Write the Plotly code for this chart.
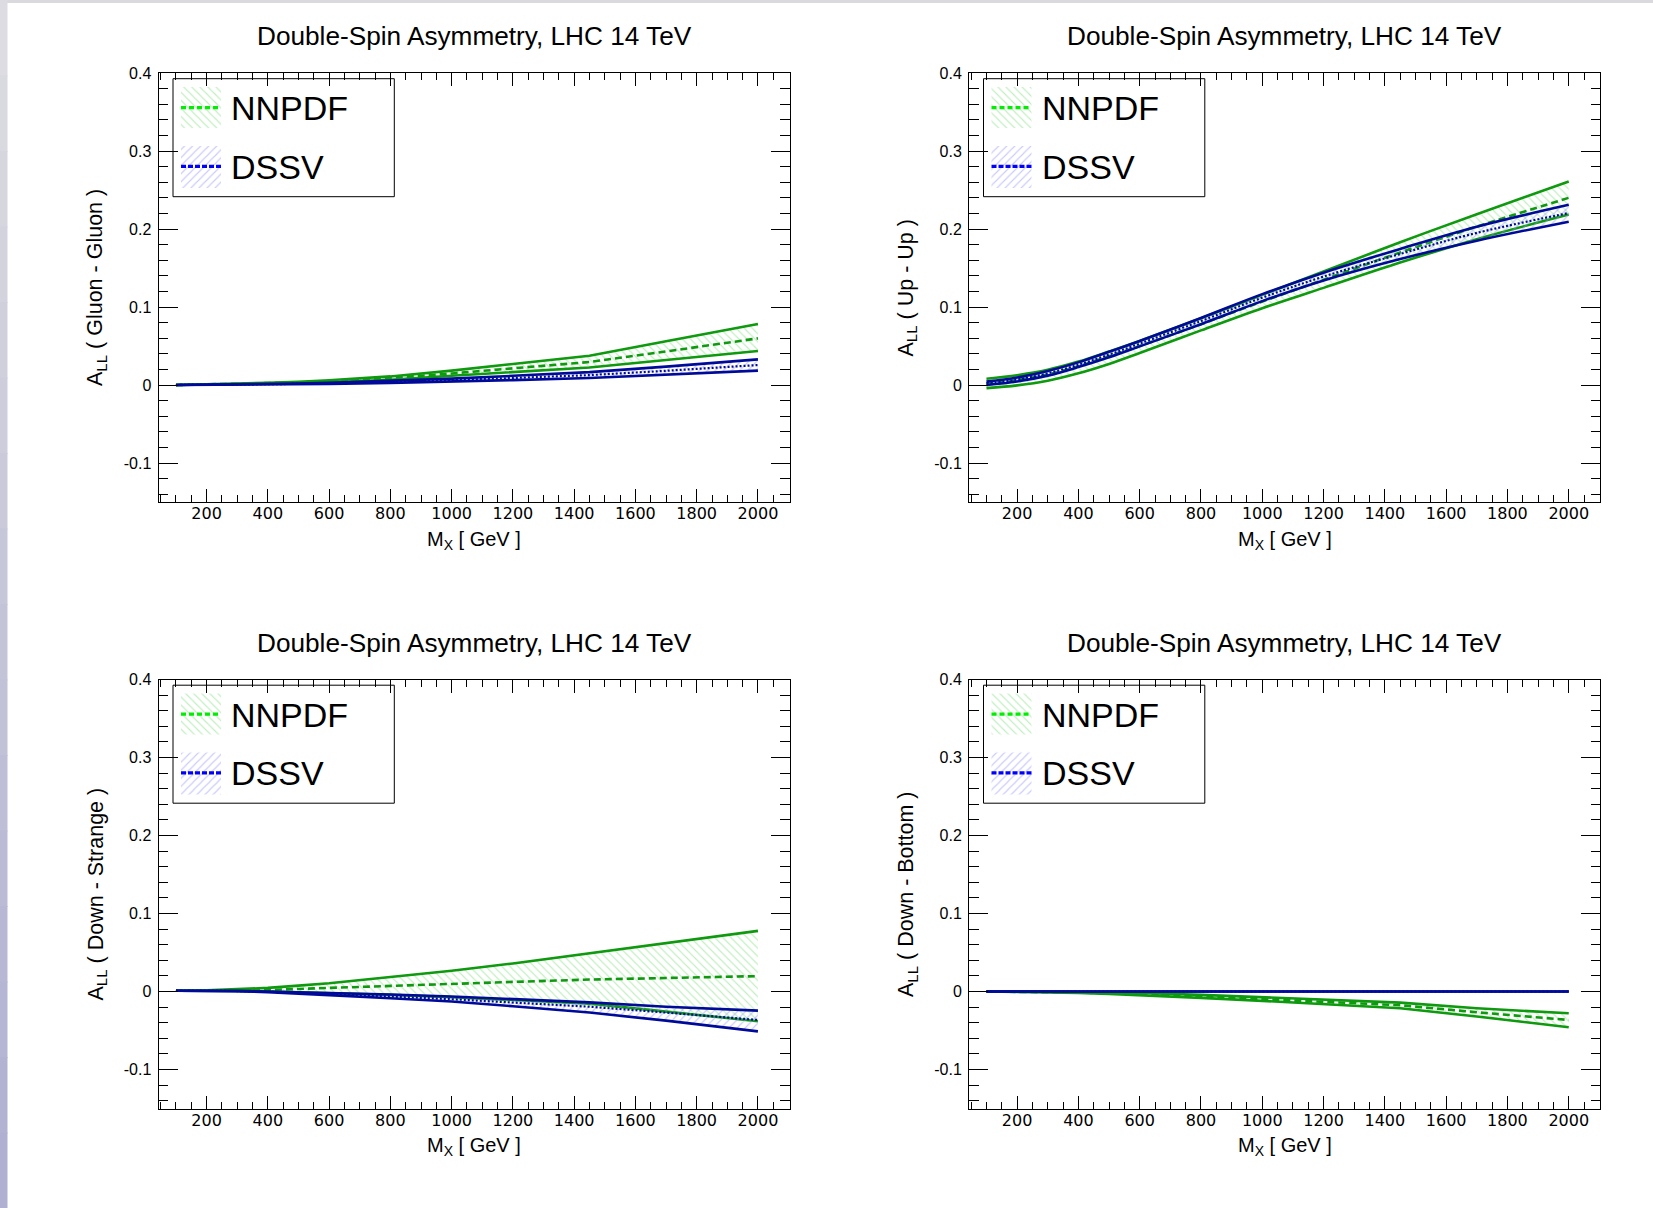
import plotly.graph_objects as go

# ---------------- data ----------------
MASS = [100, 200, 300, 400, 500, 600, 800, 1000, 1200, 1450, 1700, 2000]

# Gluon - Gluon
GG_NNPDF_HI = [0.0, 0.0008, 0.0017, 0.0028, 0.0042, 0.0060, 0.0110, 0.0184, 0.0270, 0.0375, 0.0560, 0.0782]
GG_NNPDF_MID = [0.0, 0.0006, 0.0013, 0.0022, 0.0033, 0.0047, 0.0088, 0.0148, 0.0210, 0.0295, 0.0430, 0.0598]
GG_NNPDF_LO = [0.0, 0.0004, 0.0009, 0.0016, 0.0025, 0.0035, 0.0068, 0.0118, 0.0163, 0.0225, 0.0320, 0.0436]
GG_DSSV_HI = [0.0, 0.0003, 0.0007, 0.0012, 0.0019, 0.0027, 0.0050, 0.0082, 0.0118, 0.0165, 0.0235, 0.0329]
GG_DSSV_MID = [0.0, 0.0002, 0.0005, 0.0009, 0.0014, 0.0020, 0.0038, 0.0062, 0.0090, 0.0127, 0.0182, 0.0256]
GG_DSSV_LO = [0.0, 0.0002, 0.0004, 0.0006, 0.0010, 0.0014, 0.0027, 0.0043, 0.0063, 0.0090, 0.0130, 0.0184]

# Up - Up
UU_NNPDF_HI = [0.008, 0.0125, 0.0195, 0.030, 0.043, 0.0565, 0.0855, 0.1155, 0.1455, 0.183, 0.219, 0.261]
UU_NNPDF_MID = [0.002, 0.0065, 0.0135, 0.024, 0.037, 0.050, 0.078, 0.107, 0.135, 0.170, 0.203, 0.240]
UU_NNPDF_LO = [-0.004, -0.0005, 0.0055, 0.015, 0.027, 0.041, 0.0700, 0.0985, 0.1245, 0.157, 0.187, 0.2185]
UU_DSSV_HI = [0.0043, 0.0095, 0.018, 0.029, 0.0425, 0.0565, 0.086, 0.1165, 0.144, 0.1745, 0.203, 0.231]
UU_DSSV_MID = [0.002, 0.007, 0.015, 0.026, 0.039, 0.053, 0.082, 0.112, 0.139, 0.168, 0.195, 0.2205]
UU_DSSV_LO = [0.0, 0.0045, 0.012, 0.023, 0.0355, 0.0495, 0.078, 0.1075, 0.134, 0.1615, 0.185, 0.2094]

# Down - Strange
DS_NNPDF_HI = [0.001, 0.0015, 0.003, 0.0047, 0.0075, 0.0105, 0.0185, 0.0265, 0.036, 0.049, 0.062, 0.0777]
DS_NNPDF_MID = [0.001, 0.0012, 0.0015, 0.0019, 0.0033, 0.0047, 0.0072, 0.0094, 0.0123, 0.0153, 0.0175, 0.0197]
DS_NNPDF_LO = [0.001, 0.001, 0.0008, 0.0, -0.001, -0.002, -0.0043, -0.0073, -0.0107, -0.0155, -0.0258, -0.0382]
DS_DSSV_HI = [0.001, 0.001, 0.0008, 0.0, -0.0008, -0.0017, -0.0038, -0.0064, -0.0098, -0.0139, -0.0195, -0.0245]
DS_DSSV_MID = [0.001, 0.001, 0.0006, -0.0003, -0.0017, -0.0034, -0.0065, -0.0099, -0.0145, -0.0195, -0.027, -0.0365]
DS_DSSV_LO = [0.001, 0.001, 0.0004, -0.0009, -0.0025, -0.0047, -0.0086, -0.0129, -0.0189, -0.027, -0.0373, -0.0511]

# Down - Bottom
DB_NNPDF_HI = [0.0, 0.0, -0.0004, -0.001, -0.0015, -0.002, -0.0043, -0.0073, -0.0107, -0.0142, -0.0215, -0.0279]
DB_NNPDF_MID = [0.0, -0.0003, -0.0008, -0.0014, -0.0024, -0.0034, -0.0064, -0.0099, -0.0133, -0.0176, -0.0266, -0.0365]
DB_NNPDF_LO = [0.0, -0.0005, -0.0012, -0.0019, -0.0032, -0.0047, -0.0082, -0.012, -0.0159, -0.0215, -0.032, -0.0459]
DB_DSSV_HI = [0.0, 0.0, 0.0, 0.0, 0.0, 0.0, 0.0, 0.0, 0.0, 0.0, 0.0, 0.0]
DB_DSSV_MID = [0.0, 0.0, 0.0, 0.0, 0.0, 0.0, 0.0, 0.0, 0.0, 0.0, 0.0, 0.0]
DB_DSSV_LO = [0.0, 0.0, 0.0, 0.0, 0.0, 0.0, 0.0, 0.0, 0.0, 0.0, 0.0, 0.0]

PANEL_LABELS = ["Gluon - Gluon", "Up - Up", "Down - Strange", "Down - Bottom"]
SERIES_NAMES = ["NNPDF", "DSSV"]
TITLE = "Double-Spin Asymmetry, LHC 14 TeV"
X_TITLE = "M<sub>X</sub> [ GeV ]"
Y_TICK_VALS = [-0.1, 0, 0.1, 0.2, 0.3, 0.4]
Y_TICK_TEXT = ["-0.1", "0", "0.1", "0.2", "0.3", "0.4"]

PANEL_DATA = [
    (GG_NNPDF_LO, GG_NNPDF_HI, GG_NNPDF_MID, GG_DSSV_LO, GG_DSSV_HI, GG_DSSV_MID),
    (UU_NNPDF_LO, UU_NNPDF_HI, UU_NNPDF_MID, UU_DSSV_LO, UU_DSSV_HI, UU_DSSV_MID),
    (DS_NNPDF_LO, DS_NNPDF_HI, DS_NNPDF_MID, DS_DSSV_LO, DS_DSSV_HI, DS_DSSV_MID),
    (DB_NNPDF_LO, DB_NNPDF_HI, DB_NNPDF_MID, DB_DSSV_LO, DB_DSSV_HI, DB_DSSV_MID),
]
# the Up-Up curves are smooth in the reference; the others show straight segments
PANEL_LINE_SHAPE = ["linear", "spline", "linear", "linear"]

# ---------------- layout / style ----------------
W, H = 1653, 1208
# panel frames in pixels: (left, right, top, bottom)
PANELS_PX = [
    (158.5, 789.5, 73.0, 502.0),
    (969.0, 1600.3, 73.0, 502.0),
    (158.5, 789.5, 679.5, 1108.5),
    (969.0, 1600.3, 679.5, 1108.5),
]
X_RANGE = [43, 2103]
Y_RANGE = [-0.15, 0.4]

FONT = "Liberation Sans, Arial, Helvetica, sans-serif"
TICKFONT_X = "DejaVu Sans, sans-serif"
GREEN_LINE = "#0e990e"
BLUE_LINE = "#000a99"
GREEN_HATCH = "#7fdf7f"
BLUE_HATCH = "#9494ff"
GREEN_LEG = "#00ee00"
BLUE_LEG = "#0000ff"
LW = 2.6


def ax_ids(i):
    return ("x", "y") if i == 0 else (f"x{i+1}", f"y{i+1}")


def hatch(shape, color):
    return dict(shape=shape, fgcolor=color, bgcolor="rgba(0,0,0,0)", size=5.7, solidity=0.2)


fig = go.Figure()
layout = dict(
    width=W, height=H, margin=dict(l=0, r=0, t=0, b=0, autoexpand=False),
    paper_bgcolor="white", plot_bgcolor="rgba(0,0,0,0)",
    showlegend=False, hovermode=False,
)
annotations = []
shapes = []

for i, (l, r, t, b) in enumerate(PANELS_PX):
    xa, ya = ax_ids(i)
    nlo, nhi, nmid, dlo, dhi, dmid = PANEL_DATA[i]
    shp = PANEL_LINE_SHAPE[i]
    common = dict(x=MASS, xaxis=xa, yaxis=ya, mode="lines", hoverinfo="skip", showlegend=False)
    # NNPDF band
    fig.add_trace(go.Scatter(y=nlo, line=dict(color=GREEN_LINE, width=LW, shape=shp), **common))
    fig.add_trace(go.Scatter(y=nhi, line=dict(color=GREEN_LINE, width=LW, shape=shp), fill="tonexty",
                             fillcolor="rgba(0,0,0,0)", fillpattern=hatch("\\", GREEN_HATCH), **common))
    fig.add_trace(go.Scatter(y=nmid, line=dict(color=GREEN_LINE, width=LW, dash="7px,4px", shape=shp),
                             **common))
    # DSSV band
    fig.add_trace(go.Scatter(y=dlo, line=dict(color=BLUE_LINE, width=LW, shape=shp), **common))
    fig.add_trace(go.Scatter(y=dhi, line=dict(color=BLUE_LINE, width=LW, shape=shp), fill="tonexty",
                             fillcolor="rgba(0,0,0,0)", fillpattern=hatch("/", BLUE_HATCH), **common))
    fig.add_trace(go.Scatter(y=dmid, line=dict(color=BLUE_LINE, width=2.2, dash="2px,2px", shape=shp),
                             **common))

    xkey = "xaxis" if i == 0 else f"xaxis{i+1}"
    ykey = "yaxis" if i == 0 else f"yaxis{i+1}"
    layout[xkey] = dict(
        domain=[l / W, r / W], range=X_RANGE, anchor=ya, automargin=False,
        showline=True, linecolor="black", linewidth=1, mirror="allticks",
        ticks="inside", ticklen=13, tickwidth=1, tickcolor="black",
        tickmode="linear", tick0=0, dtick=200,
        minor=dict(ticks="inside", ticklen=7, tickwidth=1, tickcolor="black", tick0=0, dtick=50),
        showgrid=False, zeroline=False,
        tickfont=dict(family=TICKFONT_X, size=16, color="black"),
        ticklabelstandoff=-3, fixedrange=True,
    )
    layout[ykey] = dict(
        domain=[1 - b / H, 1 - t / H], range=Y_RANGE, anchor=xa, automargin=False,
        showline=True, linecolor="black", linewidth=1, mirror="allticks",
        ticks="inside", ticklen=19, tickwidth=1, tickcolor="black",
        tickmode="array", tickvals=Y_TICK_VALS, ticktext=Y_TICK_TEXT,
        minor=dict(ticks="inside", ticklen=9.5, tickwidth=1, tickcolor="black", tick0=0, dtick=0.02),
        showgrid=False, zeroline=False,
        tickfont=dict(family=FONT, size=16, color="black"),
        ticklabelstandoff=3, fixedrange=True,
    )
    xd, yd = f"{xa} domain", f"{ya} domain"
    annotations.append(dict(text=TITLE, xref=xd, yref=yd, x=0.5, y=1, yshift=37,
                            xanchor="center", yanchor="middle", showarrow=False,
                            font=dict(family=FONT, size=26.2, color="black")))
    annotations.append(dict(text=X_TITLE, xref=xd, yref=yd, x=0.5, y=0, yshift=-38,
                            xanchor="center", yanchor="middle", showarrow=False,
                            font=dict(family=FONT, size=20, color="black")))
    annotations.append(dict(text=f"A<sub>LL</sub> ( {PANEL_LABELS[i]} )", xref=xd, yref=yd,
                            x=0, y=0.5, xshift=-62, textangle=-90,
                            xanchor="center", yanchor="middle", showarrow=False,
                            font=dict(family=FONT, size=21.5, color="black")))

    # ---- legend (drawn on a page-pixel overlay axis) ----
    leg = dict(xaxis="x5", yaxis="y5", hoverinfo="skip", showlegend=False)
    shapes.append(dict(type="rect", xref="x5", yref="y5", x0=l + 14.5, x1=l + 235.8,
                       y0=t + 5.7, y1=t + 123.7, line=dict(color="black", width=1),
                       fillcolor="rgba(0,0,0,0)"))
    entries = [(SERIES_NAMES[0], "\\", GREEN_HATCH, GREEN_LEG, 14, 55, 34.7, "5px,3px"),
               (SERIES_NAMES[1], "/", BLUE_HATCH, BLUE_LEG, 73, 115, 93.3, "5px,2px")]
    for name, pat, hcol, lcol, sy0, sy1, ly, dash in entries:
        sx0, sx1 = l + 22.5, l + 62.5
        fig.add_trace(go.Scatter(x=[sx0, sx1, sx1, sx0, sx0], y=[t + sy0, t + sy0, t + sy1, t + sy1, t + sy0],
                                 mode="lines", line=dict(width=0, color="rgba(0,0,0,0)"), fill="toself",
                                 fillcolor="rgba(0,0,0,0)", fillpattern=hatch(pat, hcol), **leg))
        fig.add_trace(go.Scatter(x=[sx0, sx1], y=[t + ly, t + ly], mode="lines",
                                 line=dict(color=lcol, width=3.3, dash=dash), **leg))
        annotations.append(dict(text=name, xref="x5", yref="y5", x=l + 70.5, y=t + ly + 0.5,
                                xanchor="left", yanchor="middle", showarrow=False,
                                font=dict(family=FONT, size=34, color="black")))

layout["xaxis5"] = dict(domain=[0, 1], range=[0, W], visible=False, anchor="y5",
                        fixedrange=True, automargin=False)
layout["yaxis5"] = dict(domain=[0, 1], range=[H, 0], visible=False, anchor="x5",
                        fixedrange=True, automargin=False)

# page decoration: slide-border strips
shapes.append(dict(type="rect", xref="x5", yref="y5", x0=0, x1=W, y0=0, y1=3,
                   line=dict(width=0), fillcolor="#d9d9de", layer="below"))
n_seg = 16
for k in range(n_seg):
    f = k / (n_seg - 1)
    c = (int(220 - 44 * f), int(220 - 44 * f), int(226 - 16 * f))
    shapes.append(dict(type="rect", xref="x5", yref="y5", x0=0, x1=7.5,
                       y0=H * k / n_seg, y1=H * (k + 1) / n_seg + 1,
                       line=dict(width=0), fillcolor=f"rgb{c}", layer="below"))

layout["annotations"] = annotations
layout["shapes"] = shapes
fig.update_layout(**layout)
fig.write_html("out.html")
